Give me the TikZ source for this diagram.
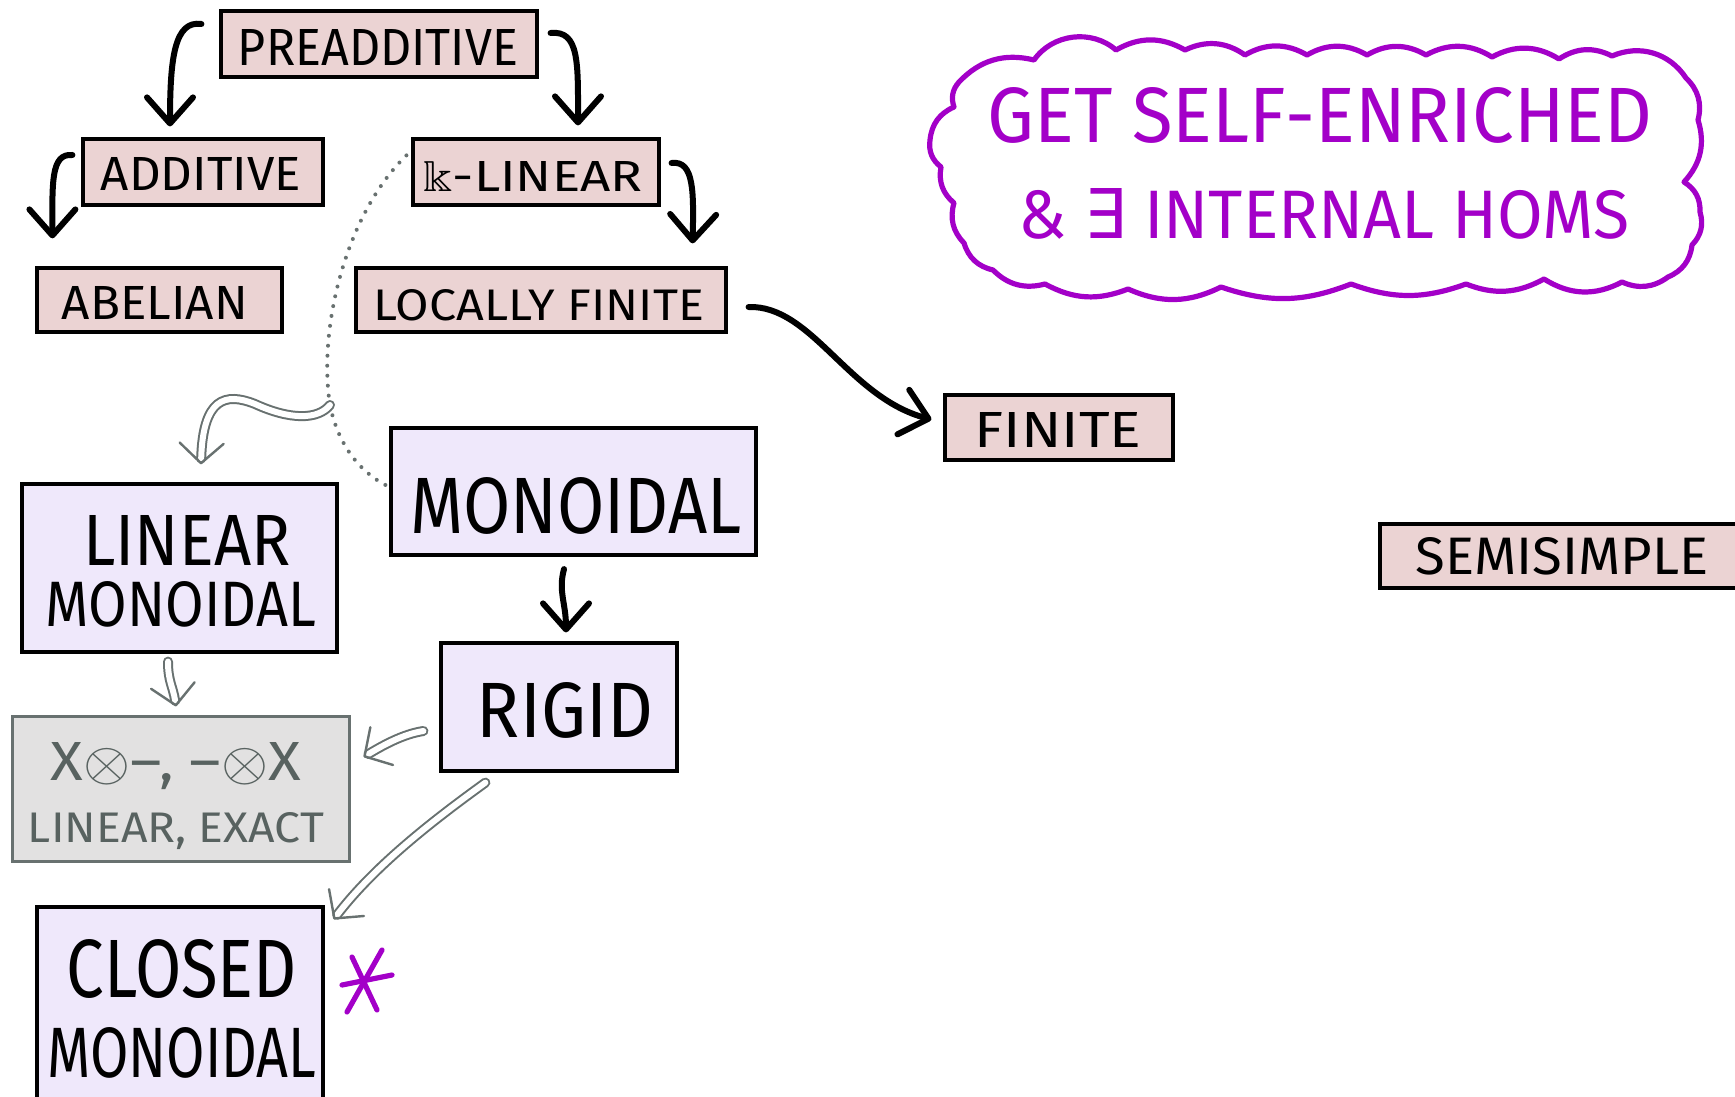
\documentclass[tikz,border=0pt]{standalone}
\usepackage{amssymb}
\usepackage{fontspec}
\setmainfont{Fira Sans}
\newfontfamily\symfont{DejaVu Sans}
\usetikzlibrary{arrows.meta,calc}

\definecolor{pinkfill}{RGB}{235,211,211}
\definecolor{lavfill}{RGB}{239,232,251}
\definecolor{greyfill}{RGB}{226,225,225}
\definecolor{greyline}{RGB}{104,113,112}
\definecolor{greytext}{RGB}{88,98,96}
\definecolor{violet}{RGB}{163,0,200}

% text squeezed to a given width and cap height (both in pt)
\newcommand{\fitlabel}[3]{\resizebox{#1pt}{#2pt}{#3}}
% grey double implication: hollow shaft, then the open tip
\newcommand{\dblarrow}[1]{\draw[dblshaft] #1; \draw[dbltip] #1;}

\tikzset{
  box/.style={rectangle, draw=black, line width=1.6pt, inner sep=0pt},
  pinkbox/.style={box, fill=pinkfill},
  lavbox/.style={box, fill=lavfill},
  greybox/.style={rectangle, draw=greyline, fill=greyfill, line width=1.5pt, inner sep=0pt},
  lbl/.style={inner sep=0pt, text depth=0pt, anchor=center},
  arr/.style={line width=3pt, line cap=round, line join=round,
    -{Straight Barb[length=13pt,width=23pt,round]}},
  dblshaft/.style={draw=greyline, line width=1pt, double=white, double distance=3pt,
    line cap=round, shorten >=3pt},
  dbltip/.style={draw=greyline, line width=1.2pt, line cap=butt,
    dash pattern=on 0pt off 2000pt, -{Straight Barb[length=10pt,width=22pt,round]}},
  dots/.style={draw=greyline, line width=2pt, line cap=round, dash pattern=on 0pt off 5pt},
  cloudline/.style={draw=violet, line width=2.6pt, line join=round, line cap=round},
  starline/.style={draw=violet, line width=2.6pt, line cap=round},
}

\begin{document}
\begin{tikzpicture}[x=0.5pt,y=-0.5pt]
\useasboundingbox (0,0) rectangle (1735,1097);
\fill[white] (0,0) rectangle (1735,1097);
\begin{scope}
\clip (0,0) rectangle (1735,1097);

% ---------- boxes ----------
\node[pinkbox, minimum width=158pt, minimum height=33pt] (pre) at (379,44) {};
\node[pinkbox, minimum width=120pt, minimum height=33pt] (add) at (203,172) {};
\node[pinkbox, minimum width=122.5pt, minimum height=32pt] (abel) at (159.5,300) {};
\node[pinkbox, minimum width=123pt, minimum height=33pt] (klin) at (536,172) {};
\node[pinkbox, minimum width=185pt, minimum height=32pt] (locfin) at (541,300) {};
\node[pinkbox, minimum width=114pt, minimum height=32.5pt] (fin) at (1059,427.5) {};
\node[pinkbox, minimum width=190pt, minimum height=32pt] (semi) at (1570,556) {};
\node[lavbox, minimum width=182.5pt, minimum height=63.5pt] (mono) at (573.5,491.5) {};
\node[lavbox, minimum width=157.5pt, minimum height=84pt] (linmono) at (179.5,568) {};
\node[lavbox, minimum width=118pt, minimum height=64pt] (rigid) at (559,707) {};
\node[greybox, minimum width=168.5pt, minimum height=72.5pt] (tensor) at (180.5,788.5) {};
\node[lavbox, minimum width=143pt, minimum height=101pt] (closed) at (180,1008) {};

% ---------- labels ----------
\node[lbl] (pre-t) at (378,47) {\fitlabel{140}{18}{PREADDITIVE}};
\node[lbl] (add-t) at (201,174) {\fitlabel{100}{16.5}{ADDITIVE}};
\node[lbl] (abel-t) at (155,303) {\fitlabel{93}{16.5}{ABELIAN}};
\node[lbl] (klin-t) at (533,176) {\fitlabel{109.5}{15}{$\Bbbk$-LINEAR}};
\node[lbl] (locfin-t) at (539,305) {\fitlabel{165}{15.5}{LOCALLY FINITE}};
\node[lbl] (fin-t) at (1058,430) {\fitlabel{83.5}{17.5}{FINITE}};
\node[lbl] (semi-t) at (1562,556) {\fitlabel{146.5}{18.5}{SEMISIMPLE}};
\node[lbl] (mono-t) at (576,505) {\fitlabel{165.5}{28}{MONOIDAL}};
\node[lbl] (linmono-t1) at (187,540) {\fitlabel{103.5}{25}{LINEAR}};
\node[lbl] (linmono-t2) at (181,604) {\fitlabel{135}{22.5}{MONOIDAL}};
\node[lbl] (rigid-t) at (565,710) {\fitlabel{88}{27.5}{RIGID}};
\node[lbl, text=greytext] (tensor-t1) at (176,761) {\fitlabel{125}{19}{X$\otimes$--, --$\otimes$X}};
\node[lbl, text=greytext] (tensor-t2) at (176,827) {\fitlabel{148}{15}{LINEAR, EXACT}};
\node[lbl] (closed-t1) at (182,968) {\fitlabel{115}{29}{CLOSED}};
\node[lbl] (closed-t2) at (182,1052) {\fitlabel{134.5}{25}{MONOIDAL}};

% ---------- cloud note ----------
\draw[cloudline]
  (959,82) to[bend left=30] (1034,60) to[bend left=48] (1116,50)
  to[bend left=30] (1185,50) to[bend left=30] (1245,55) to[bend left=30] (1307,55)
  to[bend left=30] (1367,55) to[bend left=30] (1426,55) to[bend left=30] (1492,57)
  to[bend left=30] (1559,59) to[bend left=30] (1612,56) to[bend left=40] (1686,78)
  to[bend left=30] (1698,120) to[bend left=30] (1684,182) to[bend left=30] (1700,212)
  to[bend left=30] (1692,245) to[bend left=30] (1668,277) to[bend left=30] (1622,282)
  to[bend left=30] (1544,279) to[bend left=25] (1466,284) to[bend left=20] (1351,284)
  to[bend left=20] (1221,287) to[bend left=25] (1128,289) to[bend left=25] (1045,284)
  to[bend left=30] (993,270) to[bend left=30] (964,243) to[bend left=30] (954,203)
  to[bend left=30] (941,167) to[bend left=30] (930,140) to[bend left=30] (954,107)
  to[bend left=30] (959,82) -- cycle;
\node[lbl, text=violet] (cloud-t1) at (1320,115) {\fitlabel{332.5}{27.5}{GET SELF-ENRICHED}};
\node[lbl, text=violet] (cloud-t2) at (1324,213) {\fitlabel{305}{25}{\& {\symfont ∃} INTERNAL HOMS}};

% asterisk next to closed monoidal
\draw[starline] (342,985) -- (392,975);
\draw[starline] (382,950) -- (347,1012);
\draw[starline] (352,957) -- (377,1010);

% ---------- black implications ----------
\draw[arr] ($(pre.west)+(-18,-20)$) .. controls +(-27,-4) and +(0,-68) .. ($(add.north)+(-33,-11)$);
\draw[arr] ($(pre.east)+(12,-11)$) .. controls +(29,-3) and +(0,-62) .. ($(klin.north)+(42,-12)$);
\draw[arr] ($(add.west)+(-9,-17)$) .. controls +(-22,-2) and +(0,-55) .. ($(abel.north west)+(17,-28)$);
\draw[arr] ($(klin.east)+(11,-9)$) .. controls +(23,-3) and +(1,-50) .. ($(locfin.north east)+(-35,-23)$);
\draw[arr] ($(locfin.east)+(21,7)$) .. controls +(63,-2) and +(-83,-22) .. ($(fin.west)+(-12,-8)$);
\draw[arr] ($(mono.south)+(-9.5,12.5)$) .. controls +(-6,22) and +(0,-29) .. ($(rigid.north)+(7,-9)$);

% ---------- dotted link k-linear / monoidal ----------
\coordinate (tap) at (330,405);
\draw[dots] ($(klin.north west)+(-5,18)$) .. controls (345,215) and (318,330) .. (tap)
  .. controls (338,445) and (360,472) .. ($(mono.west)+(-3,-6)$);

% ---------- grey double implications ----------
\dblarrow{(tap) .. controls +(-12,15) and +(35,16) .. (255,404)
  .. controls +(-30,-12) and +(2,-66) .. ($(linmono.north)+(21.5,-18)$)}
\dblarrow{($(linmono.south)+(-11.5,8)$) .. controls +(0,20) and +(-3,-20) .. ($(tensor.north)+(-4.5,-8)$)}
\dblarrow{($(rigid.west)+(-16,24)$) .. controls +(-20,3) and +(20,-12) .. ($(tensor.east)+(13,-31.5)$)}
\dblarrow{($(rigid.south west)+(46,10)$) .. controls +(-47,34) and +(43,-56) .. ($(closed.north east)+(9,14)$)}

\end{scope}
\end{tikzpicture}
\end{document}
